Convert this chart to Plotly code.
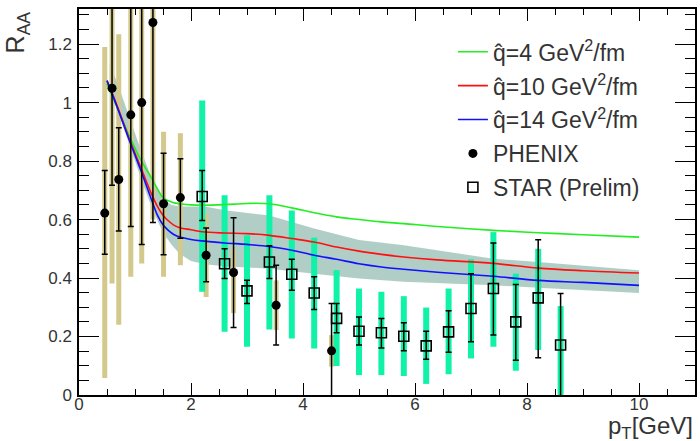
import plotly.graph_objects as go

# ---------------- data ----------------
# PHENIX points
phx_x = [0.46, 0.59, 0.71, 0.925, 1.12, 1.32, 1.51, 1.81, 2.27, 2.76, 3.52, 4.51]
phx_y = [0.622, 1.049, 0.737, 0.958, 1.000, 1.274, 0.654, 0.675, 0.478, 0.419, 0.307, 0.151]
phx_err_hi = [0.768, 1.50, 0.914, 1.50, 1.50, 1.50, 0.827, 0.808, 0.571, 0.606, 0.444, 0.313]
phx_err_lo = [0.481, 0.717, 0.561, 0.576, 0.515, 0.590, 0.480, 0.536, 0.387, 0.231, 0.171, -0.02]
phx_sys_hi = [1.19, 1.50, 1.234, 1.50, 1.50, 1.50, 0.90, 0.895, 0.62, 0.50, 0.392, 0.205]
phx_sys_lo = [0.058, 0.381, 0.24, 0.404, 0.45, 0.60, 0.404, 0.444, 0.335, 0.28, 0.222, 0.097]

# STAR (Prelim) points
star_x = [2.2, 2.6, 3.0, 3.4, 3.8, 4.2, 4.6, 5.0, 5.4, 5.8, 6.2, 6.6, 7.0, 7.4, 7.8, 8.2, 8.6]
star_y = [0.679, 0.449, 0.356, 0.455, 0.413, 0.349, 0.262, 0.218, 0.213, 0.201, 0.168,
          0.216, 0.296, 0.364, 0.250, 0.332, 0.171]
star_err_hi = [0.768, 0.500, 0.392, 0.510, 0.464, 0.404, 0.313, 0.267, 0.262, 0.247, 0.218,
               0.288, 0.415, 0.520, 0.378, 0.531, 0.347]
star_err_lo = [0.597, 0.398, 0.313, 0.398, 0.358, 0.292, 0.213, 0.171, 0.161, 0.151, 0.122,
               0.146, 0.182, 0.205, 0.119, 0.127, -0.02]
star_sys_hi = [1.007, 0.683, 0.546, 0.683, 0.631, 0.538, 0.427, 0.364, 0.353, 0.338, 0.299,
               0.364, 0.464, 0.557, 0.415, 0.500, 0.304]
star_sys_lo = [0.353, 0.216, 0.165, 0.224, 0.193, 0.159, 0.099, 0.068, 0.068, 0.065, 0.038,
               0.071, 0.125, 0.165, 0.083, 0.154, -0.02]

# theory curves
curve_x = [0.5, 0.7, 0.9, 1.1, 1.3, 1.4, 1.5, 1.6, 1.7, 1.8, 2.0, 2.2, 2.6, 3.0, 3.4,
           3.8, 4.2, 4.6, 5.0, 5.4, 5.8, 6.4, 7.4, 8.2, 9.0, 10.0]
q4_y = [1.065, 0.975, 0.885, 0.805, 0.74, 0.705, 0.675, 0.664, 0.657, 0.654, 0.650, 0.649,
        0.651, 0.655, 0.654, 0.640, 0.623, 0.609, 0.600, 0.592, 0.586, 0.576, 0.563, 0.555,
        0.548, 0.540]
q10_y = [1.075, 0.98, 0.875, 0.78, 0.685, 0.645, 0.615, 0.595, 0.580, 0.572, 0.565, 0.558,
         0.554, 0.552, 0.546, 0.535, 0.523, 0.506, 0.492, 0.481, 0.472, 0.462, 0.450, 0.434,
         0.425, 0.417]
q14_y = [1.075, 0.975, 0.87, 0.77, 0.665, 0.615, 0.582, 0.562, 0.548, 0.540, 0.532, 0.527,
         0.520, 0.515, 0.508, 0.495, 0.478, 0.464, 0.449, 0.438, 0.430, 0.420, 0.406, 0.392,
         0.385, 0.375]

# uncertainty band
band_x = [0.55, 0.7, 0.9, 1.1, 1.3, 1.5, 1.65, 1.8, 2.0, 2.25, 2.6, 3.4, 4.2, 5.0, 5.8,
          6.4, 7.4, 8.2, 10.0]
band_hi = [1.13, 1.06, 0.95, 0.84, 0.74, 0.672, 0.650, 0.645, 0.645, 0.645, 0.632, 0.614,
           0.569, 0.530, 0.512, 0.495, 0.466, 0.455, 0.427]
band_lo = [1.05, 0.965, 0.855, 0.745, 0.64, 0.555, 0.515, 0.482, 0.458, 0.447, 0.440, 0.432,
           0.415, 0.398, 0.387, 0.383, 0.375, 0.367, 0.349]

legend_names = ["q\u0302=4 GeV<sup>2</sup>/fm", "q\u0302=10 GeV<sup>2</sup>/fm",
                "q\u0302=14 GeV<sup>2</sup>/fm", "PHENIX", "STAR (Prelim)"]

FONT = "Liberation Sans, Arial, sans-serif"


def segs(xs, lo, hi):
    X, Y = [], []
    for x, a, b in zip(xs, lo, hi):
        X += [x, x, None]
        Y += [a, b, None]
    return X, Y


fig = go.Figure()

# band
fig.add_trace(go.Scatter(x=band_x, y=band_lo, mode="lines", line=dict(width=0),
                         showlegend=False, hoverinfo="skip"))
fig.add_trace(go.Scatter(x=band_x, y=band_hi, mode="lines", line=dict(width=0),
                         fill="tonexty", fillcolor="rgba(158,194,184,0.8)",
                         showlegend=False, hoverinfo="skip"))

# systematic boxes
tx, ty = segs(phx_x, phx_sys_lo, phx_sys_hi)
fig.add_trace(go.Scatter(x=tx, y=ty, mode="lines", line=dict(color="#d3c98c", width=5),
                         showlegend=False, hoverinfo="skip"))
gx, gy = segs(star_x, star_sys_lo, star_sys_hi)
fig.add_trace(go.Scatter(x=gx, y=gy, mode="lines", line=dict(color="#10f2a8", width=6),
                         showlegend=False, hoverinfo="skip"))

# curves
for ys, col, name in [(q4_y, "#22ee22", legend_names[0]),
                      (q10_y, "#ff1010", legend_names[1]),
                      (q14_y, "#1010ff", legend_names[2])]:
    fig.add_trace(go.Scatter(x=curve_x, y=ys, mode="lines", name=name,
                             line=dict(color=col, width=1.6, shape="spline"),
                             legendgroup=name))

# PHENIX
fig.add_trace(go.Scatter(
    x=phx_x, y=phx_y, mode="markers", name=legend_names[3], legendgroup="phenix",
    marker=dict(symbol="circle", size=9, color="black"),
    error_y=dict(type="data", symmetric=False,
                 array=[h - y for h, y in zip(phx_err_hi, phx_y)],
                 arrayminus=[y - l for l, y in zip(phx_err_lo, phx_y)],
                 color="black", thickness=1.5, width=3)))

# STAR
fig.add_trace(go.Scatter(
    x=star_x, y=star_y, mode="markers", name=legend_names[4], legendgroup="star",
    marker=dict(symbol="square-open", size=10, color="black", line=dict(width=1.6)),
    error_y=dict(type="data", symmetric=False,
                 array=[h - y for h, y in zip(star_err_hi, star_y)],
                 arrayminus=[y - l for l, y in zip(star_err_lo, star_y)],
                 color="black", thickness=1.5, width=3)))

axis_common = dict(showline=True, linecolor="black", linewidth=1.5, mirror="ticks",
                   ticks="inside", tickcolor="black", tickwidth=1.2, showgrid=False,
                   zeroline=False, tickfont=dict(family=FONT, size=17, color="#333333"))

fig.update_xaxes(range=[0, 11], dtick=2, tick0=0, ticklen=12,
                 minor=dict(dtick=0.5, ticklen=6, ticks="inside", tickcolor="black",
                            tickwidth=1.2, showgrid=False),
                 ticklabelstandoff=-7, **axis_common)
fig.update_yaxes(range=[0, 1.32], dtick=0.2, tick0=0, ticklen=20,
                 minor=dict(dtick=0.05, ticklen=10, ticks="inside", tickcolor="black",
                            tickwidth=1.2, showgrid=False),
                 ticklabelstandoff=2, **axis_common)

fig.update_layout(
    width=700, height=441,
    margin=dict(l=79, r=3, t=9, b=46),
    paper_bgcolor="white", plot_bgcolor="white",
    font=dict(family=FONT, color="#333333"),
    showlegend=True,
    legend=dict(x=0.607, y=0.945, xanchor="left", yanchor="top",
                bgcolor="rgba(0,0,0,0)", font=dict(family=FONT, size=23, color="#333333"),
                traceorder="grouped", tracegroupgap=1),
    annotations=[
        dict(text="R<sub>AA</sub>", xref="paper", yref="paper", x=-0.1, y=1.0,
             xanchor="center", yanchor="top", textangle=-90, showarrow=False,
             font=dict(family=FONT, size=25, color="#333333")),
        dict(text="p<sub>T</sub>[GeV]", xref="paper", yref="paper", x=1.0, y=-0.13,
             xanchor="right", yanchor="bottom", showarrow=False,
             font=dict(family=FONT, size=24, color="#333333")),
    ],
)

fig.write_html("out.html", config={"displayModeBar": False},
               post_script="document.body.style.margin='0px';document.body.style.overflow='hidden';")
